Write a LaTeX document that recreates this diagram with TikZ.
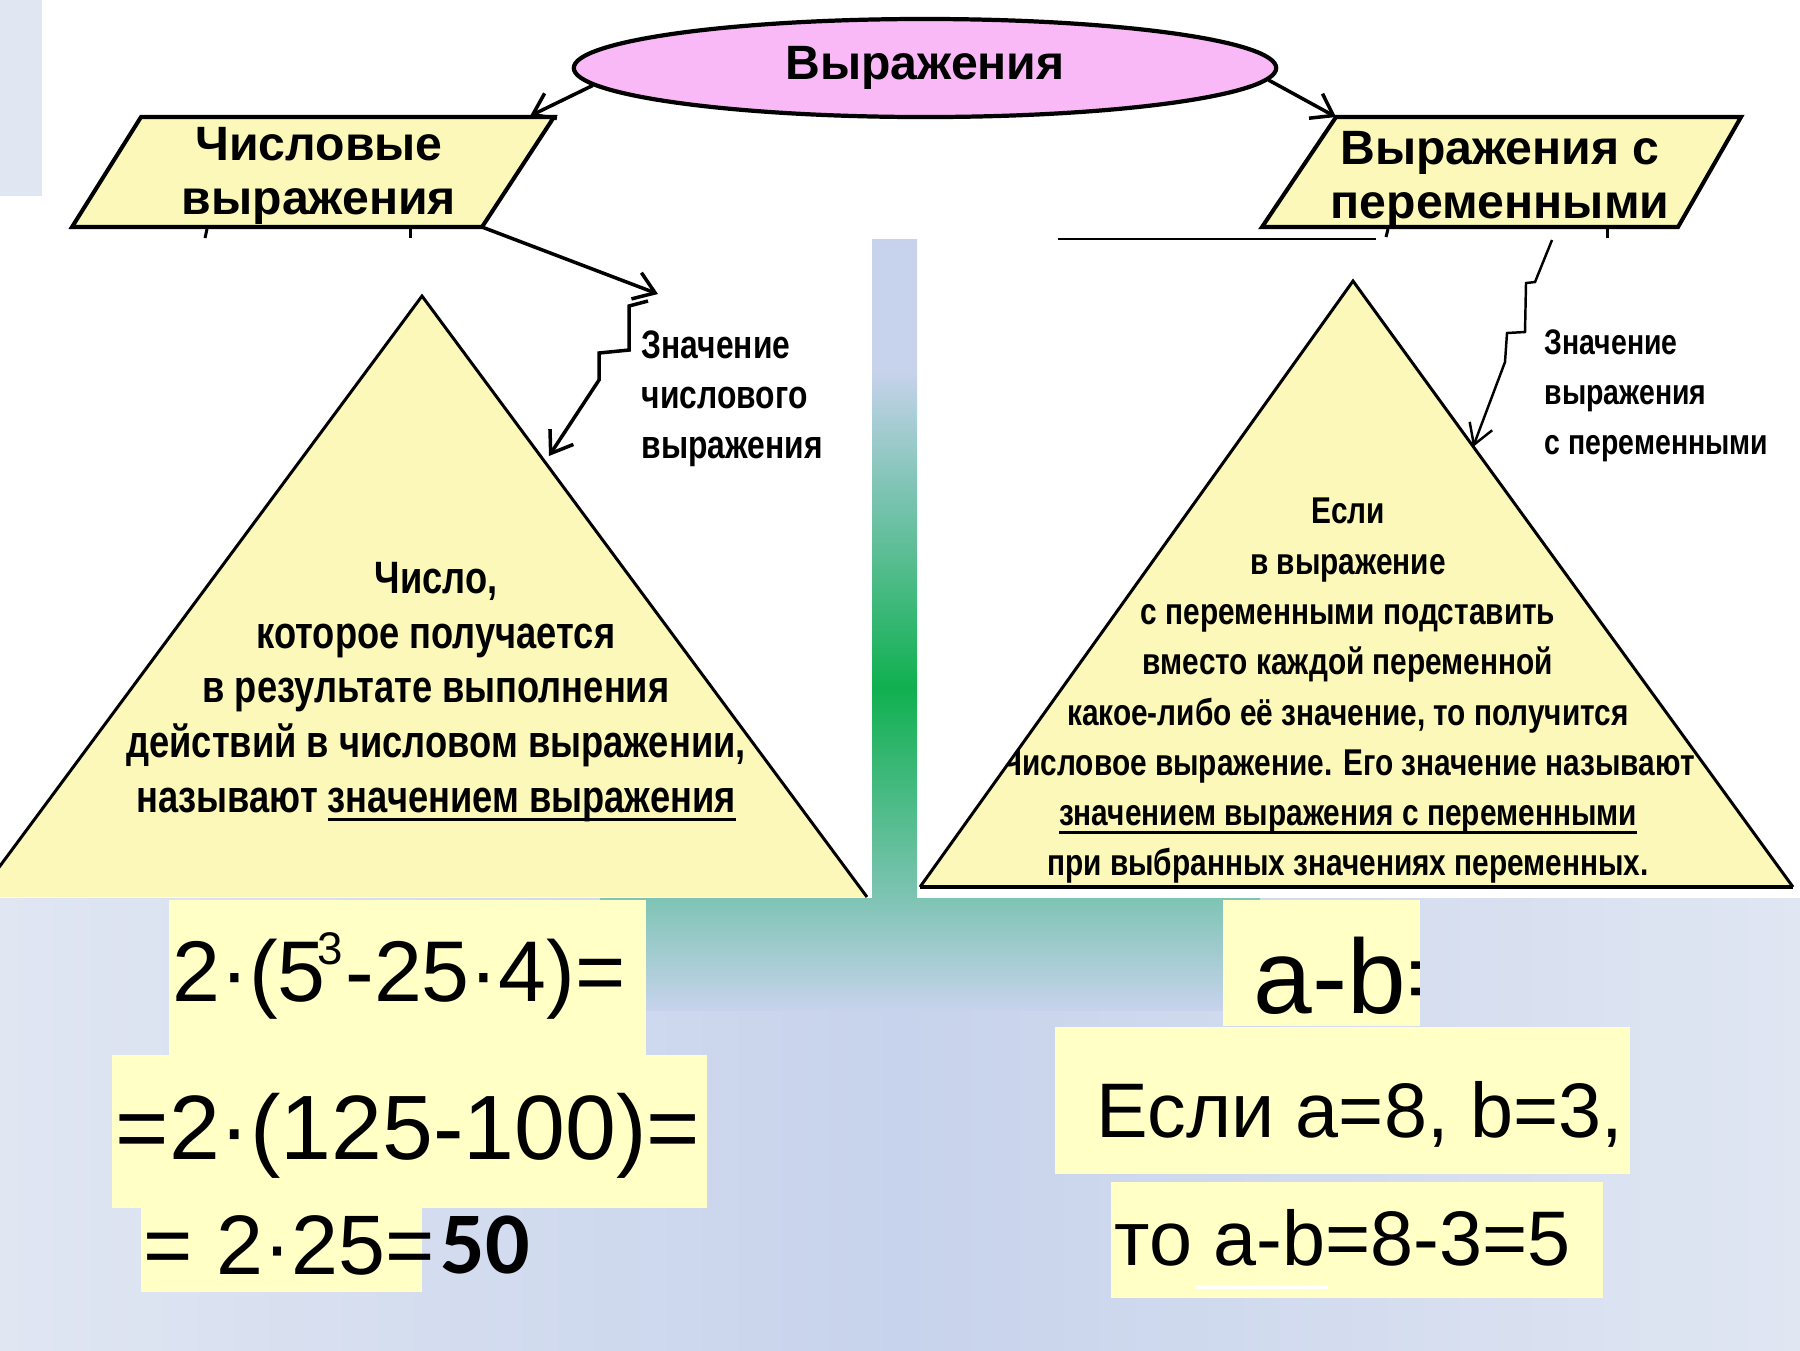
\documentclass[tikz,border=0pt]{standalone}
\usepackage{fontspec}
\setmainfont{Liberation Sans}
\newfontfamily\narrowfont[FakeStretch=0.8]{Liberation Sans}
\newfontfamily\calibrifont{Carlito}
\usepackage{xcolor}
\usetikzlibrary{arrows.meta, positioning, shapes.geometric}

\definecolor{paleyellow}{HTML}{FBF8B9}
\definecolor{boxyellow}{HTML}{FFFFC6}
\definecolor{lilac}{HTML}{F9B9F7}
\definecolor{slateblue}{HTML}{C7D3EC}
\definecolor{paleslate}{HTML}{E0E6F2}
\definecolor{seagreen}{HTML}{7EC4B4}
\definecolor{brightgreen}{HTML}{10B050}

\pgfdeclareverticalshading{barshade}{100bp}{color(0bp)=(seagreen); color(25bp)=(seagreen); color(41bp)=(brightgreen); color(56bp)=(seagreen); color(65bp)=(slateblue); color(100bp)=(slateblue)}

\newcommand\thickul[1]{\leavevmode\setbox0=\hbox{#1}\rlap{\rule[-2.4pt]{\wd0}{0.9pt}}\box0}
\newcommand\cubeexp{\kern-0.1em\raisebox{0.42em}{\fontsize{13}{13}\selectfont 3}\kern0.03em}

\begin{document}
\begin{tikzpicture}[
  x=0.01cm, y=-0.01cm,
  para/.style={draw, line width=1.15pt, fill=paleyellow, line join=miter},
  side/.style={draw, line width=0.85pt},
  link/.style={-{Straight Barb[length=2mm,width=2.8mm]}, line width=1pt},
  thinlink/.style={-{Straight Barb[length=2mm,width=2.4mm]}, line width=0.7pt},
  head/.style={font=\bfseries\fontsize{13.7}{15.4}\selectfont, align=center, inner sep=0pt},
  note/.style={font=\narrowfont\bfseries\fontsize{11.3}{14.2}\selectfont, align=left, inner sep=0pt},
  rule/.style={font=\narrowfont\bfseries, align=center, inner sep=0pt},
  calc/.style={inner sep=0pt, anchor=west}
]
\useasboundingbox (0,0) rectangle (1800,1350);
\clip (0,0) rectangle (1800,1350);
\fill[white] (0,0) rectangle (1800,1350);
\fill[paleslate] (0,0) rectangle (42,196);
\shade[left color=paleslate, right color=paleslate, middle color=slateblue] (0,898) rectangle (1800,1350);
\shade[top color=seagreen, bottom color=slateblue] (600,898) rectangle (1260,1010);
\shade[shading=barshade] (872,239) rectangle (917,898);

\node[ellipse, draw, line width=1.2pt, fill=lilac, minimum width=7.02cm, minimum height=0.98cm, inner sep=0pt,
  font=\bfseries\fontsize{13.7}{15}\selectfont] (expr) at (925,68) {Выражения};

\coordinate (l1) at (72,227);
\coordinate (l2) at (482,227);
\coordinate (l3) at (554,117);
\coordinate (l4) at (141,117);
\draw[para] (l1) -- (l2) -- (l3) -- (l4) -- cycle;
\node[head] (lnum) at (319,176) {Числовые\\выражения};

\coordinate (r1) at (1262,227);
\coordinate (r2) at (1678,227);
\coordinate (r3) at (1741,117);
\coordinate (r4) at (1336,117);
\draw[para] (r1) -- (r2) -- (r3) -- (r4) -- cycle;
\node[head] (rvar) at (1500,180) {Выражения с\\переменными};

\draw[side] (207,229) -- (205,238);
\draw[side] (410,229) -- (410,238);
\draw[side] (1388,229) -- (1386,237);
\draw[side] (1607,229) -- (1607,238);
\draw[line width=0.6pt] (1058,239) -- (1376,239);

\coordinate (ltip) at (530,116);
\draw[link] (expr.183) -- (ltip);
\draw[link] (expr.358) -- (r4);

\coordinate (la) at (422,296);
\coordinate (lb) at (-23,897);
\coordinate (lc) at (867,897);
\fill[paleyellow] (la) -- (lc) -- (lb) -- cycle;
\begin{scope}
\clip (la) -- (lc) -- (lb) -- cycle;
\node[rule, font=\narrowfont\bfseries\fontsize{12.9}{15.6}\selectfont] (ldef) at (436,692)
  {Число,\\которое получается\\в результате выполнения\\действий в числовом выражении,\\называют \thickul{значением выражения}};
\end{scope}
\draw[side] (lb) -- (la) -- (lc);

\coordinate (ra) at (1353,281);
\coordinate (rb) at (920,887);
\coordinate (rc) at (1793,887);
\fill[paleyellow] (ra) -- (rc) -- (rb) -- cycle;
\begin{scope}
\clip (ra) -- (rc) -- (rb) -- cycle;
\node[rule, font=\narrowfont\bfseries\fontsize{10.6}{14.3}\selectfont] (rdef) at (1348,691)
  {Если\\в выражение\\с переменными подставить\\вместо каждой переменной\\какое-либо её значение, то получится\\Числовое выражение. Его значение называют\\\thickul{значением выражения с переменными}\\при выбранных значениях переменных.};
\end{scope}
\draw[side] (rb) -- (ra) -- (rc);
\draw[line width=1.4pt] (rb) -- (rc);

\coordinate (lmark) at (658,294);
\coordinate (lhit) at (549,456);
\draw[link] (l2) -- (lmark);
\draw[link] ([shift={(-10,7)}]lmark) -- ++(-19,5) -- ++(0,44) -- ++(-30,3) -- ++(0,27) -- (lhit);
\node[note, anchor=west] (lval) at (641,399) {Значение\\числового\\выражения};

\coordinate (rstart) at (1552,240);
\coordinate (rhit) at (1473,447);
\draw[thinlink] (rstart) -- ++(-17,42) -- ++(-9,1) -- ++(-1,49) -- ++(-18,1) -- ++(-2,29) -- (rhit);
\node[note, font=\narrowfont\bfseries\fontsize{10.1}{14.2}\selectfont, anchor=west] (rval) at (1544,396) {Значение\\выражения\\с переменными};

\fill[boxyellow] (169,900) rectangle (646,1055);
\fill[boxyellow] (112,1055) rectangle (707,1208);
\fill[boxyellow] (141,1208) rectangle (422,1292);
\node[calc, font=\fontsize{24.5}{30}\selectfont] (f1) at (172,976) {2·(5\cubeexp-25·4)=};
\node[calc, font=\fontsize{26}{30}\selectfont] (f2) at (115,1136) {=2·(125-100)=};
\node[calc, font=\fontsize{24}{28}\selectfont] (f3) at (143,1245) {= 2·25=};
\node[calc, font=\calibrifont\bfseries\fontsize{25}{30}\selectfont] (res) at (440,1245) {50};

\fill[boxyellow] (1223,900) rectangle (1420,1026);
\fill[boxyellow] (1055,1027) rectangle (1630,1174);
\fill[boxyellow] (1111,1182) rectangle (1603,1298);
\begin{scope}
\clip (1223,900) rectangle (1419,1026);
\node[calc, font=\fontsize{30}{34}\selectfont] (ab) at (1253,976) {a-b=};
\end{scope}
\node[calc, font=\fontsize{22}{26}\selectfont] (cond) at (1096,1114) {Если a=8, b=3,};
\node[calc, font=\fontsize{22}{26}\selectfont] (ans) at (1114,1238) {то a-b=8-3=5};
\draw[white, line width=1pt] (1196,1287) -- (1328,1287);
\end{tikzpicture}
\end{document}
